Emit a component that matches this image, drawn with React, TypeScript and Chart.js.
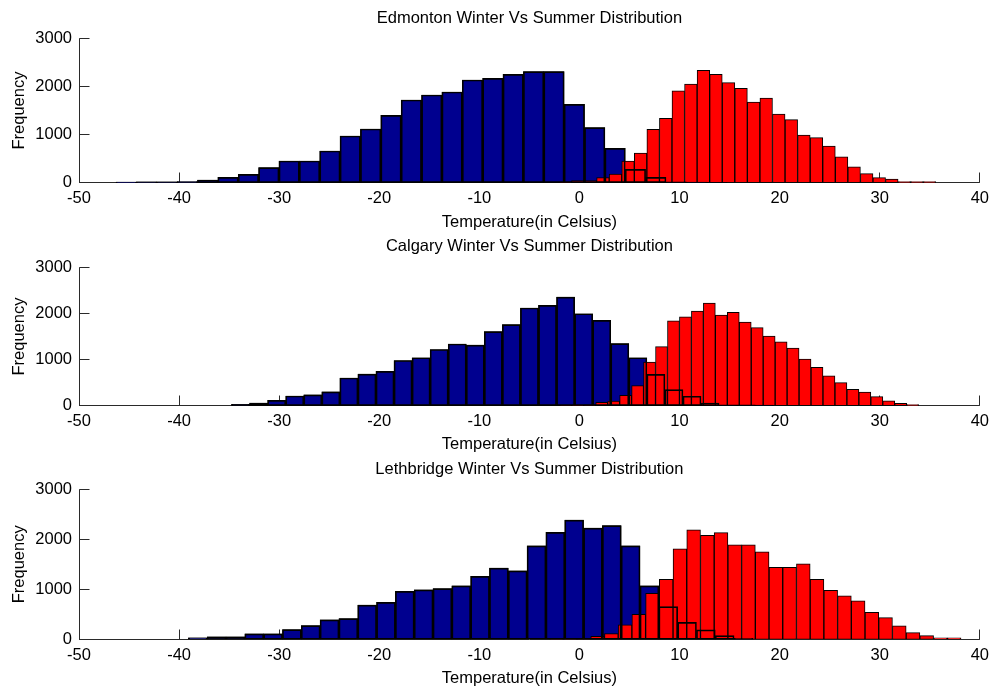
import React, { useEffect, useRef } from 'react';
import { Chart, registerables } from 'chart.js';

Chart.register(...registerables);

// ---------------- data ----------------
const X_TICKS = [-50, -40, -30, -20, -10, 0, 10, 20, 30, 40];
const Y_TICKS = [0, 1000, 2000, 3000];
const X_LABEL = 'Temperature(in Celsius)';
const Y_LABEL = 'Frequency';
const TITLES = [
  'Edmonton Winter Vs Summer Distribution',
  'Calgary Winter Vs Summer Distribution',
  'Lethbridge Winter Vs Summer Distribution',
];

// Edmonton
const EDM_WINTER_BINS = [-45.283, -43.248, -41.213, -39.178, -37.143, -35.108, -33.073, -31.038, -29.003, -26.968, -24.933, -22.898, -20.863, -18.828, -16.793, -14.758, -12.723, -10.688, -8.653, -6.618, -4.583, -2.548, -0.513, 1.522, 3.557, 5.592, 7.627, 9.662, 11.697, 13.732];
const EDM_WINTER_COUNTS = [15, 20, 20, 25, 55, 110, 173, 312, 450, 450, 658, 970, 1115, 1400, 1718, 1822, 1885, 2134, 2169, 2252, 2308, 2308, 1628, 1143, 714, 277, 111, 20, 15, 10];
const EDM_SUMMER_BINS = [-1.4225, -0.1675, 1.0875, 2.3425, 3.5975, 4.8525, 6.1075, 7.3625, 8.6175, 9.8725, 11.1275, 12.3825, 13.6375, 14.8925, 16.1475, 17.4025, 18.6575, 19.9125, 21.1675, 22.4225, 23.6775, 24.9325, 26.1875, 27.4425, 28.6975, 29.9525, 31.2075, 32.4625, 33.7175, 34.9725];
const EDM_SUMMER_COUNTS = [10, 42, 42, 104, 180, 450, 616, 1108, 1337, 1911, 2050, 2334, 2251, 2078, 1960, 1676, 1759, 1427, 1309, 990, 935, 762, 540, 332, 187, 104, 76, 21, 21, 21];

// Calgary
const CAL_WINTER_BINS = [-33.858, -32.054, -30.25, -28.446, -26.642, -24.838, -23.034, -21.23, -19.426, -17.622, -15.818, -14.014, -12.21, -10.406, -8.602, -6.798, -4.994, -3.19, -1.386, 0.418, 2.222, 4.026, 5.83, 7.634, 9.438, 11.242, 13.046, 14.85, 16.654, 18.458];
const CAL_WINTER_COUNTS = [29, 58, 116, 210, 235, 300, 600, 686, 744, 980, 1040, 1218, 1337, 1312, 1606, 1756, 2117, 2175, 2355, 1994, 1850, 1344, 1040, 679, 347, 205, 55, 20, 18, 15];
const CAL_SUMMER_BINS = [-1.3625, -0.1675, 1.0275, 2.2225, 3.4175, 4.6125, 5.8075, 7.0025, 8.1975, 9.3925, 10.5875, 11.7825, 12.9775, 14.1725, 15.3675, 16.5625, 17.7575, 18.9525, 20.1475, 21.3425, 22.5375, 23.7325, 24.9275, 26.1225, 27.3175, 28.5125, 29.7075, 30.9025, 32.0975, 33.2925];
const CAL_SUMMER_COUNTS = [8, 15, 20, 72, 101, 224, 434, 946, 1279, 1842, 1929, 2052, 2225, 1965, 2023, 1814, 1691, 1510, 1387, 1250, 1012, 831, 650, 499, 354, 296, 195, 108, 51, 22];

// Lethbridge
const LET_WINTER_BINS = [-38.13, -36.25, -34.37, -32.49, -30.61, -28.73, -26.85, -24.97, -23.09, -21.21, -19.33, -17.45, -15.57, -13.69, -11.81, -9.93, -8.05, -6.17, -4.29, -2.41, -0.53, 1.35, 3.23, 5.11, 6.99, 8.87, 10.75, 12.63, 14.51, 16.39];
const LET_WINTER_COUNTS = [27, 47, 47, 107, 107, 193, 273, 387, 413, 683, 737, 960, 987, 1013, 1067, 1260, 1425, 1370, 1870, 2140, 2385, 2225, 2273, 1870, 1067, 653, 340, 187, 73, 20];
const LET_SUMMER_BINS = [-2.295, -0.925, 0.445, 1.815, 3.185, 4.555, 5.925, 7.295, 8.665, 10.035, 11.405, 12.775, 14.145, 15.515, 16.885, 18.255, 19.625, 20.995, 22.365, 23.735, 25.105, 26.475, 27.845, 29.215, 30.585, 31.955, 33.325, 34.695, 36.065, 37.435];
const LET_SUMMER_COUNTS = [5, 10, 20, 60, 113, 287, 500, 920, 1200, 1807, 2187, 2080, 2133, 1887, 1887, 1747, 1440, 1440, 1507, 1200, 980, 867, 767, 540, 433, 267, 133, 73, 27, 27];

// ---------------- styling / layout ----------------
const FONT = { family: "'Liberation Sans', Arial, Helvetica, sans-serif", size: 16.5, lineHeight: 1.2 };
const WINTER_COLOR = '#00008f';
const SUMMER_COLOR = '#ff0000';
const AXIS_COLOR = '#2a2a2a';
const TICK_LEN = 10;
const W = 995;

const PANELS = [
  { title: TITLES[0], wx: EDM_WINTER_BINS, wy: EDM_WINTER_COUNTS, sx: EDM_SUMMER_BINS, sy: EDM_SUMMER_COUNTS,
    top: 0, height: 232, titlePad: { top: 8.4, bottom: 10.1 }, xHeight: 49.3, xTitlePad: 0 },
  { title: TITLES[1], wx: CAL_WINTER_BINS, wy: CAL_WINTER_COUNTS, sx: CAL_SUMMER_BINS, sy: CAL_SUMMER_COUNTS,
    top: 232, height: 223, titlePad: { top: 4.8, bottom: 10.7 }, xHeight: 49.3, xTitlePad: 0.6 },
  { title: TITLES[2], wx: LET_WINTER_BINS, wy: LET_WINTER_COUNTS, sx: LET_SUMMER_BINS, sy: LET_SUMMER_COUNTS,
    top: 455, height: 237, titlePad: { top: 4.6, bottom: 9.9 }, xHeight: 52.7, xTitlePad: 4.1 },
];

const matlabAxes = {
  id: 'matlabAxes',
  beforeDatasetsDraw(chart: any) {
    const { ctx, chartArea } = chart;
    const xs = chart.scales.x;
    const ys = chart.scales.y;
    const y0 = Math.floor(ys.getPixelForValue(0)) + 0.5;
    const xl = Math.floor(chartArea.left) + 0.5;
    ctx.save();
    ctx.strokeStyle = AXIS_COLOR;
    ctx.lineWidth = 1;
    ctx.beginPath();
    ctx.moveTo(chartArea.left, y0);
    ctx.lineTo(chartArea.right, y0);
    ctx.moveTo(xl, chartArea.bottom);
    ctx.lineTo(xl, chartArea.top);
    xs.ticks.forEach((t: any) => {
      const px = Math.floor(xs.getPixelForValue(t.value)) + 0.5;
      ctx.moveTo(px, y0);
      ctx.lineTo(px, y0 - TICK_LEN);
    });
    ys.ticks.forEach((t: any) => {
      const py = Math.floor(ys.getPixelForValue(t.value)) + 0.5;
      ctx.moveTo(xl, py);
      ctx.lineTo(xl + TICK_LEN, py);
    });
    ctx.stroke();
    ctx.restore();
  },
};

function Panel({ p }: { p: any }) {
  const ref = useRef<HTMLCanvasElement | null>(null);
  useEffect(() => {
    if (!ref.current) return;
    const winter = p.wx.map((x: number, i: number) => ({ x, y: p.wy[i] }));
    const summer = p.sx.map((x: number, i: number) => ({ x, y: p.sy[i] }));
    const barCommon = {
      borderColor: '#000000',
      borderWidth: 1,
      borderSkipped: false,
      grouped: false,
      categoryPercentage: 1,
      barPercentage: 1,
    };
    const chart = new Chart(ref.current, {
      type: 'bar',
      data: {
        datasets: [
          { ...barCommon, label: 'winter edges', data: winter, xAxisID: 'x', backgroundColor: 'rgba(0,0,0,0)', order: 0 },
          { ...barCommon, label: 'summer', data: summer, xAxisID: 'x2', backgroundColor: SUMMER_COLOR, order: 1 },
          { ...barCommon, label: 'winter', data: winter, xAxisID: 'x', backgroundColor: WINTER_COLOR, order: 2 },
        ],
      } as any,
      options: {
        responsive: false,
        animation: false,
        devicePixelRatio: 1,
        layout: { padding: { left: 0, right: 12, top: 0, bottom: 0 } },
        plugins: {
          legend: { display: false },
          tooltip: { enabled: false },
          title: {
            display: true,
            text: p.title,
            fullSize: false,
            color: '#000',
            font: { ...FONT, weight: 'normal' },
            padding: p.titlePad,
          },
        },
        scales: {
          x: {
            type: 'linear',
            position: 'bottom',
            min: -50,
            max: 40,
            offset: false,
            grid: { display: false, drawTicks: false, offset: false },
            border: { display: false },
            afterBuildTicks: (s: any) => { s.ticks = X_TICKS.map((v) => ({ value: v })); },
            afterFit: (s: any) => { s.height = p.xHeight; },
            ticks: { color: '#000', font: FONT, padding: 6, maxRotation: 0, autoSkip: false, callback: (v: any) => String(v) },
            title: { display: true, text: X_LABEL, color: '#000', font: FONT, padding: { top: 0, bottom: p.xTitlePad } },
          },
          x2: {
            type: 'linear',
            position: 'bottom',
            min: -50,
            max: 40,
            offset: false,
            display: false,
            grid: { offset: false },
          },
          y: {
            type: 'linear',
            position: 'left',
            min: 0,
            max: 3000,
            grid: { display: false, drawTicks: false },
            border: { display: false },
            afterBuildTicks: (s: any) => { s.ticks = Y_TICKS.map((v) => ({ value: v })); },
            afterFit: (s: any) => { s.width = 79; },
            ticks: { color: '#000', font: FONT, padding: 7, callback: (v: any) => String(v) },
            title: { display: true, text: Y_LABEL, color: '#000', font: FONT, padding: { top: 9.1, bottom: 0 } },
          },
        },
      } as any,
      plugins: [matlabAxes],
    });
    return () => chart.destroy();
  }, [p]);
  return (
    <canvas
      ref={ref}
      width={W}
      height={p.height}
      style={{ position: 'absolute', left: 0, top: p.top, width: W, height: p.height, display: 'block' }}
    />
  );
}

export default function App() {
  return (
    <div style={{ position: 'absolute', left: 0, top: 0, width: W, height: 692, background: '#ffffff', overflow: 'hidden' }}>
      {PANELS.map((p, i) => (
        <Panel key={i} p={p} />
      ))}
    </div>
  );
}
